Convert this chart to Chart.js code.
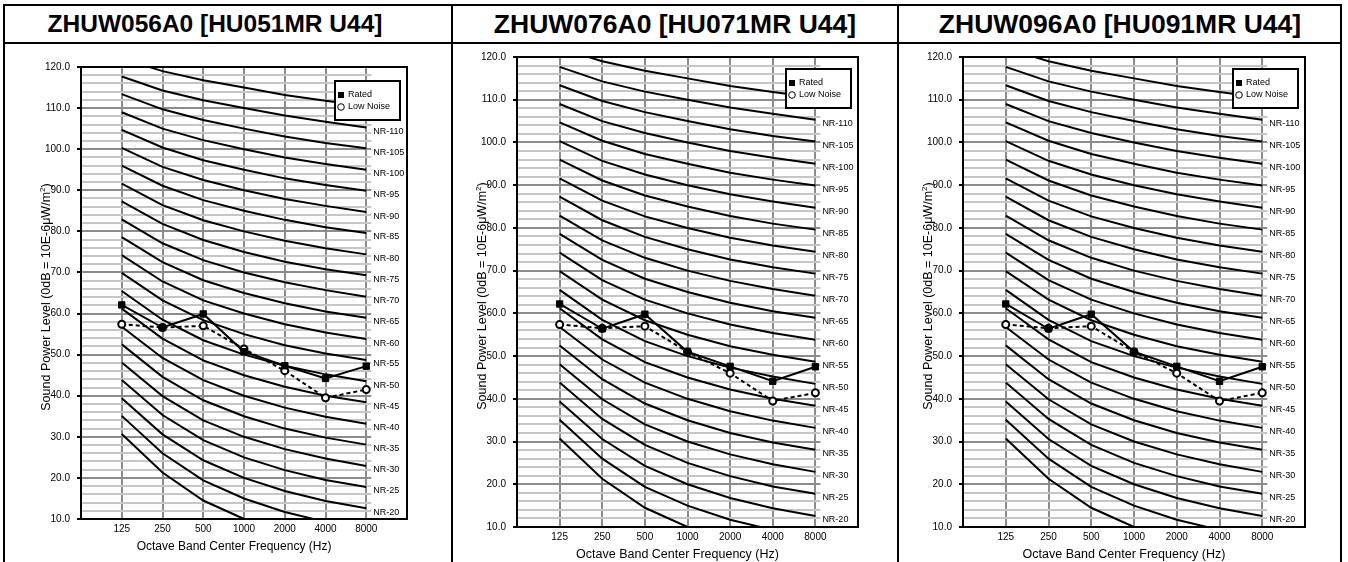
<!DOCTYPE html>
<html>
<head>
<meta charset="utf-8">
<script src="https://cdn.jsdelivr.net/npm/chart.js@4.4.0/dist/chart.umd.min.js"></script>
<style>
  html, body { margin: 0; padding: 0; background: #fff; }
  body { width: 1348px; height: 562px; position: relative; overflow: hidden; font-family: "Liberation Sans", Arial, sans-serif; }
  .vline { position: absolute; top: 4px; width: 2px; height: 558px; background: #000; }
  .hline { position: absolute; left: 3px; width: 1339px; height: 2px; background: #000; }
  .title { position: absolute; top: 6px; height: 36px; line-height: 36px; font-weight: bold; color: #000; white-space: nowrap; transform: translateX(-50%); }
  canvas { position: absolute; }
</style>
</head>
<body>
<div class="hline" style="top:4px"></div>
<div class="hline" style="top:42px"></div>
<div class="vline" style="left:3px"></div>
<div class="vline" style="left:451px"></div>
<div class="vline" style="left:897px"></div>
<div class="vline" style="left:1340px"></div>

<div class="title" style="left:215px;font-size:24.5px">ZHUW056A0 [HU051MR U44]</div>
<div class="title" style="left:675px;font-size:26.5px">ZHUW076A0 [HU071MR U44]</div>
<div class="title" style="left:1120px;font-size:26.5px">ZHUW096A0 [HU091MR U44]</div>

<canvas id="c1" width="444" height="518" style="left:6px;top:44px"></canvas>
<canvas id="c2" width="442" height="518" style="left:454px;top:44px"></canvas>
<canvas id="c3" width="439" height="518" style="left:900px;top:44px"></canvas>

<script>
// octave bands
const freqLabels = ['125', '250', '500', '1000', '2000', '4000', '8000'];

// NR reference curves, one row per curve, values at each octave band
const nrNames = ['NR-10', 'NR-15', 'NR-20', 'NR-25', 'NR-30', 'NR-35', 'NR-40', 'NR-45',
                 'NR-50', 'NR-55', 'NR-60', 'NR-65', 'NR-70', 'NR-75', 'NR-80', 'NR-85',
                 'NR-90', 'NR-95', 'NR-100', 'NR-105', 'NR-110', 'NR-115'];
const nrLevels = [
    [30.7, 21.3, 14.5, 10.0, 6.7, 4.2, 2.3],
    [35.1, 26.0, 19.4, 15.0, 11.7, 9.3, 7.5],
    [39.4, 30.6, 24.3, 20.0, 16.8, 14.4, 12.6],
    [43.8, 35.3, 29.2, 25.0, 21.9, 19.5, 17.8],
    [48.1, 39.9, 34.0, 30.0, 27.0, 24.7, 22.9],
    [52.5, 44.6, 38.9, 35.0, 32.0, 29.8, 28.1],
    [56.8, 49.2, 43.8, 40.0, 37.1, 34.9, 33.2],
    [61.2, 53.9, 48.6, 45.0, 42.2, 40.0, 38.4],
    [65.5, 58.5, 53.5, 50.0, 47.3, 45.2, 43.5],
    [69.9, 63.2, 58.4, 55.0, 52.3, 50.3, 48.7],
    [74.2, 67.8, 63.2, 60.0, 57.4, 55.4, 53.8],
    [78.6, 72.5, 68.1, 65.0, 62.5, 60.5, 59.0],
    [82.9, 77.1, 73.0, 70.0, 67.6, 65.7, 64.1],
    [87.3, 81.8, 77.9, 75.0, 72.6, 70.8, 69.3],
    [91.6, 86.4, 82.7, 80.0, 77.7, 75.9, 74.4],
    [96.0, 91.1, 87.6, 85.0, 82.8, 81.0, 79.6],
    [100.3, 95.7, 92.5, 90.0, 87.9, 86.2, 84.7],
    [104.7, 100.4, 97.3, 95.0, 92.9, 91.3, 89.9],
    [109.0, 105.0, 102.2, 100.0, 98.0, 96.4, 95.0],
    [113.4, 109.7, 107.1, 105.0, 103.1, 101.5, 100.2],
    [117.7, 114.3, 111.9, 110.0, 108.2, 106.7, 105.3],
    [122.1, 119.0, 116.8, 115.0, 113.2, 111.8, 110.5]
];
const nrLabelled = ['NR-20', 'NR-25', 'NR-30', 'NR-35', 'NR-40', 'NR-45', 'NR-50', 'NR-55',
                    'NR-60', 'NR-65', 'NR-70', 'NR-75', 'NR-80', 'NR-85', 'NR-90', 'NR-95',
                    'NR-100', 'NR-105', 'NR-110'];

// measured sound power per unit
const rated056 = [62.1, 56.6, 59.9, 50.7, 47.3, 44.2, 47.2];
const lowNoise056 = [57.4, 56.6, 57.0, 51.4, 46.1, 39.5, 41.5];
const rated076 = [62.2, 56.4, 59.8, 51.0, 47.6, 44.1, 47.5];
const lowNoise076 = [57.4, 56.5, 57.0, 51.0, 46.0, 39.5, 41.4];
const rated096 = [62.2, 56.4, 59.8, 51.0, 47.6, 44.1, 47.5];
const lowNoise096 = [57.4, 56.5, 57.0, 51.0, 46.0, 39.5, 41.4];

const seriesNames = ['Rated', 'Low Noise'];
const yMin = 10, yMax = 120;
const xTitle = 'Octave Band Center Frequency (Hz)';
const yTitleMain = 'Sound Power Level (0dB = 10E-6\u03bcW/m';

const FONT = '"Liberation Sans", Arial, sans-serif';
Chart.defaults.font.family = FONT;
Chart.defaults.color = '#000';

function toPoints(values) {
    return values.map((v, i) => ({ x: i + 1, y: v }));
}

function makeChart(id, rated, lowNoise, geo) {
    const datasets = [
        {
            label: seriesNames[0],
            data: toPoints(rated),
            borderColor: '#000',
            borderWidth: 2,
            pointStyle: 'rect',
            pointRadius: 4.5,
            pointBackgroundColor: '#000',
            pointBorderColor: '#000',
            pointBorderWidth: 1,
            tension: 0
        },
        {
            label: seriesNames[1],
            data: toPoints(lowNoise),
            borderColor: '#000',
            borderWidth: 2,
            borderDash: [4, 3],
            pointStyle: 'circle',
            pointRadius: 3.5,
            pointBackgroundColor: '#fff',
            pointBorderColor: '#000',
            pointBorderWidth: 2,
            tension: 0
        }
    ];
    nrNames.forEach((name, i) => {
        datasets.push({
            label: name,
            data: toPoints(nrLevels[i]),
            borderColor: '#000',
            borderWidth: 2,
            pointRadius: 0,
            tension: 0
        });
    });

    const decor = {
        id: 'decor' + id,
        beforeDatasetsDraw(chart) {
            // excel leaves the strip right of 8000 free for the NR labels
            const { ctx, chartArea } = chart;
            const x7 = chart.scales.x.getPixelForValue(7);
            ctx.save();
            ctx.fillStyle = '#fff';
            ctx.fillRect(x7 + 5, chartArea.top + 1, chartArea.right - x7 - 6, chartArea.bottom - chartArea.top - 2);
            ctx.restore();
        },
        afterDatasetsDraw(chart) {
            const { ctx, chartArea } = chart;
            const xs = chart.scales.x, ys = chart.scales.y;
            const x7 = xs.getPixelForValue(7);
            ctx.save();

            // plot box
            ctx.strokeStyle = '#000';
            ctx.lineWidth = 2;
            ctx.strokeRect(chartArea.left, chartArea.top, chartArea.right - chartArea.left, chartArea.bottom - chartArea.top);

            // NR labels next to the curve ends
            ctx.font = '9px ' + FONT;
            ctx.fillStyle = '#000';
            ctx.textAlign = 'left';
            ctx.textBaseline = 'middle';
            nrNames.forEach((name, i) => {
                if (!nrLabelled.includes(name)) return;
                const end = nrLevels[i][6];
                ctx.fillText(name, x7 + 7, ys.getPixelForValue(end) + 4);
            });

            // legend box
            const lw = 65, lh = 39;
            const lx = chartArea.right - 7 - lw, ly = chartArea.top + geo.legendTop;
            ctx.fillStyle = '#fff';
            ctx.fillRect(lx, ly, lw, lh);
            ctx.strokeRect(lx, ly, lw, lh);
            ctx.fillStyle = '#000';
            ctx.fillRect(lx + 3, ly + 11, 6, 6);
            ctx.lineWidth = 1;
            ctx.beginPath();
            ctx.arc(lx + 6, ly + 26, 3.3, 0, Math.PI * 2);
            ctx.stroke();
            ctx.fillText(seriesNames[0], lx + 13, ly + 14);
            ctx.fillText(seriesNames[1], lx + 13, ly + 26);

            // x axis title
            ctx.font = geo.titleSize + 'px ' + FONT;
            ctx.textAlign = 'center';
            ctx.fillText(xTitle, (chartArea.left + chartArea.right) / 2 - 10, chartArea.bottom + 28);

            // y axis title with superscript
            const size = geo.ySize;
            ctx.translate(chartArea.left - 36, (chartArea.top + chartArea.bottom) / 2 + 4);
            ctx.rotate(-Math.PI / 2);
            ctx.textAlign = 'left';
            ctx.textBaseline = 'alphabetic';
            ctx.font = size + 'px ' + FONT;
            const w1 = ctx.measureText(yTitleMain).width;
            const w3 = ctx.measureText(')').width;
            ctx.font = (size * 0.65) + 'px ' + FONT;
            const w2 = ctx.measureText('2').width;
            let x0 = -(w1 + w2 + w3) / 2;
            const base = size * 0.36;
            ctx.font = size + 'px ' + FONT;
            ctx.fillText(yTitleMain, x0, base);
            ctx.font = (size * 0.65) + 'px ' + FONT;
            ctx.fillText('2', x0 + w1, base - size * 0.4);
            ctx.font = size + 'px ' + FONT;
            ctx.fillText(')', x0 + w1 + w2, base);
            ctx.restore();
        }
    };

    return new Chart(document.getElementById(id), {
        type: 'line',
        data: { datasets: datasets },
        plugins: [decor],
        options: {
            responsive: false,
            animation: false,
            layout: {
                padding: { left: 0, top: geo.padTop, right: geo.padRight, bottom: 0 }
            },
            plugins: {
                legend: { display: false },
                tooltip: { enabled: false }
            },
            scales: {
                x: {
                    type: 'linear',
                    min: 0,
                    max: 8,
                    afterFit: (scale) => { scale.height = geo.xHeight; },
                    border: { display: false },
                    grid: {
                        drawTicks: false,
                        lineWidth: 2,
                        color: (c) => (c.tick && c.tick.value >= 1 && c.tick.value <= 7) ? '#8c8c8c' : 'rgba(0,0,0,0)'
                    },
                    ticks: {
                        stepSize: 1,
                        autoSkip: false,
                        maxRotation: 0,
                        padding: 4,
                        font: { size: 10 },
                        callback: (v) => freqLabels[v - 1] || ''
                    }
                },
                y: {
                    min: yMin,
                    max: yMax,
                    afterFit: (scale) => { scale.width = geo.yWidth; },
                    border: { display: false },
                    grid: {
                        lineWidth: 2,
                        tickLength: 4,
                        color: (c) => (c.tick && c.tick.value % 10 === 0) ? '#8c8c8c' : '#c6c6c6',
                        tickColor: (c) => (c.tick && c.tick.value % 10 === 0) ? '#000' : 'rgba(0,0,0,0)'
                    },
                    ticks: {
                        stepSize: 2,
                        autoSkip: false,
                        padding: 7,
                        font: { size: 10 },
                        callback: (v) => (v % 10 === 0) ? v.toFixed(1) : ''
                    }
                }
            }
        }
    });
}

makeChart('c1', rated056, lowNoise056, { padTop: 23, padRight: 43, yWidth: 75, xHeight: 43, legendTop: 14, titleSize: 12, ySize: 12.5 });
makeChart('c2', rated076, lowNoise076, { padTop: 12, padRight: 38, yWidth: 63, xHeight: 35, legendTop: 12, titleSize: 12.5, ySize: 12.5 });
makeChart('c3', rated096, lowNoise096, { padTop: 12, padRight: 34, yWidth: 63, xHeight: 35, legendTop: 12, titleSize: 12.5, ySize: 12.5 });
</script>
</body>
</html>
